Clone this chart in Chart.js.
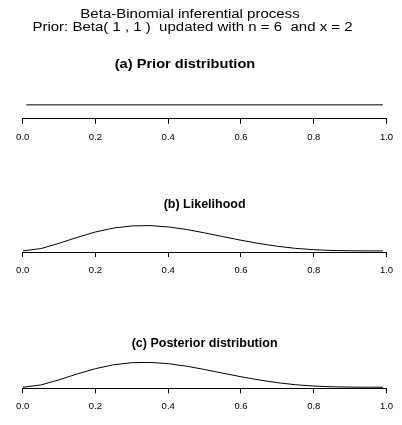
<!DOCTYPE html>
<html>
<head>
<meta charset="utf-8">
<script src="https://cdn.jsdelivr.net/npm/chart.js@4.4.0/dist/chart.umd.min.js"></script>
<style>
  html, body { margin: 0; padding: 0; background: #fff; }
  #wrap { position: relative; width: 402px; height: 425px; }
  #wrap canvas { position: absolute; left: 0; }
</style>
</head>
<body>
<div id="wrap">
  <canvas id="prior" width="402" height="147" style="top:0px"></canvas>
  <canvas id="lik" width="402" height="143" style="top:147px"></canvas>
  <canvas id="post" width="402" height="135" style="top:290px"></canvas>
</div>
<script>
// values
const mainTitle = ['Beta-Binomial inferential process', 'Prior: Beta( 1 , 1 )  updated with n = 6  and x = 2'];
const panelTitles = ['(a) Prior distribution', '(b) Likelihood', '(c) Posterior distribution'];
const xTicks = [0, 0.2, 0.4, 0.6, 0.8, 1.0];

const priorTheta = [0.01, 0.99];
const priorDensity = [1, 1];

const theta = [0, 0.05, 0.1, 0.15, 0.2, 0.25, 0.3, 0.35, 0.4, 0.45, 0.5,
               0.55, 0.6, 0.65, 0.7, 0.75, 0.8, 0.85, 0.9, 0.95, 0.99];
const likelihood = [0, 0.21, 0.69, 1.23, 1.72, 2.08, 2.27, 2.30, 2.18, 1.95, 1.64,
                    1.30, 0.97, 0.67, 0.42, 0.23, 0.11, 0.04, 0.01, 0, 0];
const posterior = [0, 0.21, 0.69, 1.23, 1.72, 2.08, 2.27, 2.30, 2.18, 1.95, 1.64,
                   1.30, 0.97, 0.67, 0.42, 0.23, 0.11, 0.04, 0.01, 0, 0];

Chart.defaults.font.family = '"Liberation Sans", Arial, sans-serif';
Chart.defaults.color = '#000';

const textLines = {
  id: 'textLines',
  afterDraw(chart, args, opts) {
    const ctx = chart.ctx;
    (opts.lines || []).forEach(function (l) {
      ctx.save();
      ctx.font = l.font;
      ctx.fillStyle = '#000';
      ctx.textAlign = 'center';
      ctx.textBaseline = 'alphabetic';
      ctx.translate(l.x, l.y);
      ctx.scale(l.sx || 1, 1);
      ctx.fillText(l.text, 0, 0);
      ctx.restore();
    });
  }
};

function toPoints(xs, ys) {
  return xs.map(function (x, i) { return { x: x, y: ys[i] }; });
}

function makePanel(id, xs, ys, yMin, yMax, padding, title, lines) {
  new Chart(id, {
    type: 'line',
    data: {
      datasets: [{
        data: toPoints(xs, ys),
        borderColor: '#000',
        borderWidth: 1,
        pointRadius: 0,
        tension: 0,
        fill: false
      }]
    },
    options: {
      responsive: false,
      animation: false,
      layout: { padding: padding },
      plugins: {
        legend: { display: false },
        tooltip: { enabled: false },
        title: title,
        textLines: { lines: lines || [] }
      },
      scales: {
        x: {
          type: 'linear',
          min: 0,
          max: 1,
          afterBuildTicks: function (axis) {
            axis.ticks = xTicks.map(function (v) { return { value: v }; });
          },
          ticks: {
            padding: 7.5,
            font: { size: 9.5 },
            color: '#000',
            callback: function (v) { return v.toFixed(1); }
          },
          grid: {
            display: true,
            drawOnChartArea: false,
            drawTicks: true,
            tickLength: 5,
            color: '#000'
          },
          border: { display: true, color: '#000', width: 1 }
        },
        y: {
          display: false,
          min: yMin,
          max: yMax
        }
      }
    },
    plugins: [textLines]
  });
}

makePanel('prior', priorTheta, priorDensity, 0.5, 1.5,
  { left: 22.7, right: 15.5, top: 91, bottom: 0.6 },
  { display: false },
  [
    { text: mainTitle[0], x: 190, y: 18.3, font: '12.5px "Liberation Sans", Arial, sans-serif', sx: 1.2 },
    { text: mainTitle[1], x: 192.5, y: 30.6, font: '12.5px "Liberation Sans", Arial, sans-serif', sx: 1.2 },
    { text: panelTitles[0], x: 185, y: 68.4, font: 'bold 12.5px "Liberation Sans", Arial, sans-serif', sx: 1.17 }
  ]);

makePanel('lik', theta, likelihood, -0.1, 2.4,
  { left: 22.7, right: 15.5, top: 0, bottom: 6.6 },
  {
    display: true,
    text: panelTitles[1],
    font: { size: 12.5, weight: 'bold', lineHeight: 1.2 },
    color: '#000',
    padding: { top: 50.5, bottom: 12 }
  });

makePanel('post', theta, posterior, -0.1, 2.4,
  { left: 22.7, right: 15.5, top: 0, bottom: 5.3 },
  {
    display: true,
    text: panelTitles[2],
    font: { size: 12.5, weight: 'bold', lineHeight: 1.2 },
    color: '#000',
    padding: { top: 46.5, bottom: 9.8 }
  });
</script>
</body>
</html>
